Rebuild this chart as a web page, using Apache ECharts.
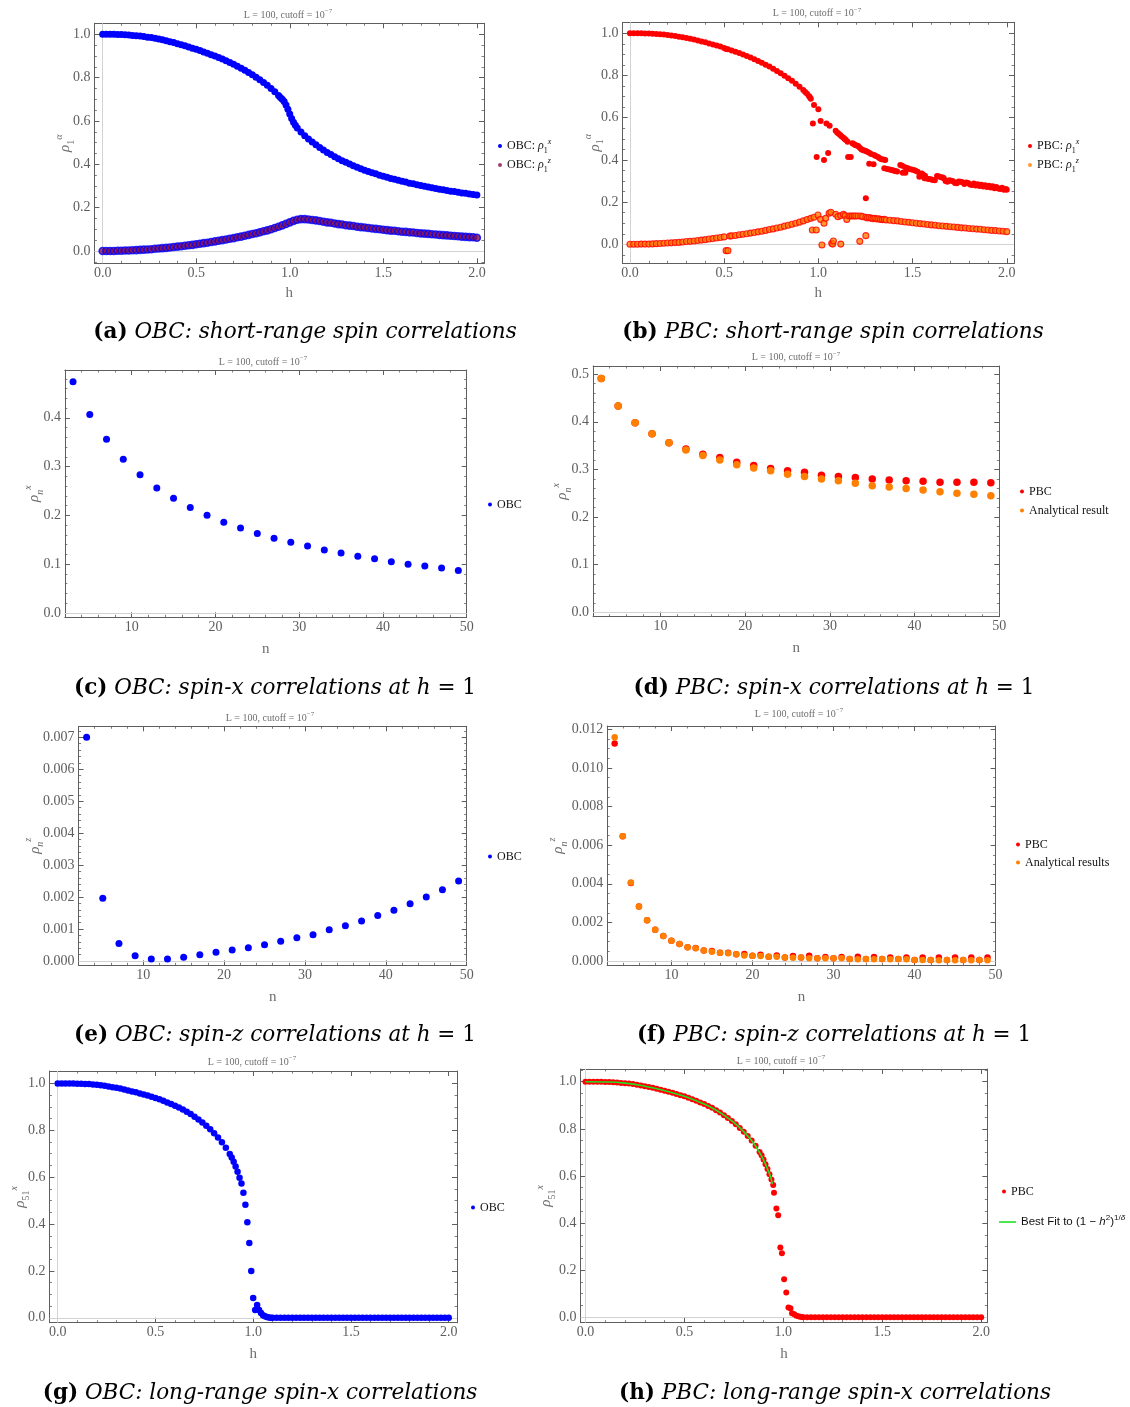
<!DOCTYPE html>
<html><head><meta charset="utf-8">
<script src="https://cdn.jsdelivr.net/npm/echarts@6.0.0/dist/echarts.min.js"></script>
<style>html,body{margin:0;padding:0;background:#fff}#c{width:1130px;height:1407px}</style>
</head><body><div id="c"></div>
<script>
// ================= DATA =================
// (a) OBC short-range, h vs rho_1^x and rho_1^z
const obcRho1x = [[0,1.000],[0.02,1.000],[0.04,1.000],[0.06,1.000],[0.08,0.999],[0.1,0.999],[0.12,0.998],[0.14,0.997],[0.16,0.995],[0.18,0.994],[0.2,0.992],[0.22,0.990],[0.24,0.987],[0.26,0.985],[0.28,0.982],[0.3,0.978],[0.32,0.975],[0.34,0.971],[0.36,0.966],[0.38,0.962],[0.4,0.957],[0.42,0.952],[0.44,0.947],[0.46,0.942],[0.48,0.936],[0.5,0.931],[0.52,0.925],[0.54,0.919],[0.56,0.913],[0.58,0.906],[0.6,0.900],[0.62,0.893],[0.64,0.886],[0.66,0.878],[0.68,0.870],[0.7,0.862],[0.72,0.853],[0.74,0.844],[0.76,0.834],[0.78,0.824],[0.8,0.813],[0.82,0.802],[0.84,0.790],[0.86,0.778],[0.88,0.765],[0.9,0.750],[0.92,0.735],[0.94,0.718],[0.95,0.709],[0.96,0.700],[0.97,0.690],[0.98,0.674],[0.99,0.654],[1.0,0.632],[1.01,0.611],[1.02,0.594],[1.03,0.580],[1.04,0.568],[1.06,0.549],[1.08,0.532],[1.1,0.517],[1.12,0.503],[1.14,0.490],[1.16,0.478],[1.18,0.466],[1.2,0.455],[1.22,0.445],[1.24,0.435],[1.26,0.426],[1.28,0.417],[1.3,0.409],[1.32,0.401],[1.34,0.393],[1.36,0.386],[1.38,0.380],[1.4,0.373],[1.42,0.367],[1.44,0.361],[1.46,0.356],[1.48,0.350],[1.5,0.345],[1.52,0.340],[1.54,0.335],[1.56,0.331],[1.58,0.326],[1.6,0.322],[1.62,0.318],[1.64,0.313],[1.66,0.310],[1.68,0.306],[1.7,0.302],[1.72,0.299],[1.74,0.295],[1.76,0.292],[1.78,0.288],[1.8,0.285],[1.82,0.282],[1.84,0.279],[1.86,0.276],[1.88,0.274],[1.9,0.271],[1.92,0.268],[1.94,0.266],[1.96,0.263],[1.98,0.261],[2.0,0.258]];
const obcRho1z = [[0,0.000],[0.02,0.000],[0.04,0.000],[0.06,0.000],[0.08,0.001],[0.1,0.001],[0.12,0.002],[0.14,0.002],[0.16,0.003],[0.18,0.004],[0.2,0.005],[0.22,0.006],[0.24,0.007],[0.26,0.008],[0.28,0.010],[0.3,0.011],[0.32,0.013],[0.34,0.014],[0.36,0.016],[0.38,0.018],[0.4,0.020],[0.42,0.022],[0.44,0.024],[0.46,0.026],[0.48,0.028],[0.5,0.031],[0.52,0.033],[0.54,0.036],[0.56,0.038],[0.58,0.041],[0.6,0.044],[0.62,0.047],[0.64,0.050],[0.66,0.053],[0.68,0.056],[0.7,0.059],[0.72,0.063],[0.74,0.066],[0.76,0.070],[0.78,0.074],[0.8,0.078],[0.82,0.082],[0.84,0.086],[0.86,0.091],[0.88,0.095],[0.9,0.100],[0.92,0.106],[0.94,0.112],[0.96,0.118],[0.98,0.125],[1.0,0.132],[1.02,0.139],[1.04,0.144],[1.06,0.147],[1.08,0.147],[1.1,0.145],[1.12,0.143],[1.14,0.141],[1.16,0.138],[1.18,0.135],[1.2,0.132],[1.22,0.130],[1.24,0.127],[1.26,0.124],[1.28,0.122],[1.3,0.119],[1.32,0.117],[1.34,0.115],[1.36,0.112],[1.38,0.110],[1.4,0.108],[1.42,0.106],[1.44,0.104],[1.46,0.102],[1.48,0.100],[1.5,0.098],[1.52,0.096],[1.54,0.094],[1.56,0.093],[1.58,0.091],[1.6,0.089],[1.62,0.088],[1.64,0.086],[1.66,0.085],[1.68,0.083],[1.7,0.081],[1.72,0.080],[1.74,0.079],[1.76,0.077],[1.78,0.076],[1.8,0.074],[1.82,0.073],[1.84,0.072],[1.86,0.070],[1.88,0.069],[1.9,0.068],[1.92,0.066],[1.94,0.065],[1.96,0.064],[1.98,0.063],[2.0,0.061]];

// (b) PBC short-range
const pbcRho1x = [[0,1.000],[0.02,1.000],[0.04,1.000],[0.06,1.000],[0.08,0.999],[0.1,0.999],[0.12,0.998],[0.14,0.997],[0.16,0.995],[0.18,0.994],[0.2,0.992],[0.22,0.990],[0.24,0.987],[0.26,0.984],[0.28,0.981],[0.3,0.978],[0.32,0.974],[0.34,0.970],[0.36,0.966],[0.38,0.961],[0.4,0.957],[0.42,0.952],[0.44,0.947],[0.46,0.942],[0.48,0.937],[0.5,0.930],[0.51,0.925],[0.52,0.924],[0.54,0.918],[0.56,0.912],[0.58,0.906],[0.6,0.899],[0.62,0.892],[0.64,0.885],[0.66,0.877],[0.68,0.869],[0.7,0.860],[0.72,0.851],[0.74,0.842],[0.76,0.832],[0.78,0.821],[0.8,0.810],[0.82,0.799],[0.84,0.787],[0.86,0.775],[0.88,0.761],[0.9,0.747],[0.92,0.731],[0.93,0.722],[0.94,0.713],[0.95,0.703],[0.955,0.697],[0.96,0.690],
 [0.971,0.572],[0.977,0.660],[0.991,0.414],[1.0,0.640],[1.012,0.584],[1.03,0.400],[1.043,0.572],[1.052,0.433],[1.06,0.562],[1.092,0.538],[1.1,0.530],[1.108,0.524],[1.116,0.518],[1.124,0.511],[1.133,0.505],[1.14,0.499],[1.146,0.494],[1.155,0.486],[1.158,0.414],[1.172,0.414],[1.181,0.479],[1.188,0.475],[1.195,0.471],[1.203,0.468],[1.211,0.466],[1.22,0.458],[1.228,0.450],[1.235,0.447],[1.243,0.445],[1.252,0.442],[1.252,0.218],[1.26,0.438],[1.27,0.434],[1.27,0.382],[1.28,0.428],[1.293,0.379],[1.296,0.423],[1.305,0.418],[1.317,0.414],[1.325,0.408],[1.335,0.403],[1.345,0.402],[1.355,0.400],[1.35,0.360],[1.365,0.357],[1.378,0.355],[1.389,0.352],[1.398,0.350],[1.408,0.347],[1.418,0.345],[1.435,0.376],[1.445,0.372],[1.448,0.339],[1.46,0.365],[1.462,0.339],[1.472,0.361],[1.483,0.357],[1.495,0.355],[1.506,0.352],[1.516,0.348],[1.527,0.344],[1.536,0.320],[1.549,0.336],[1.556,0.330],[1.563,0.313],[1.566,0.325],[1.575,0.312],[1.586,0.310],[1.597,0.308],[1.607,0.305],[1.618,0.303],[1.63,0.324],[1.64,0.321],[1.651,0.318],[1.66,0.316],[1.666,0.313],[1.675,0.300],[1.685,0.297],[1.695,0.303],[1.705,0.301],[1.715,0.299],[1.725,0.291],[1.735,0.289],[1.745,0.298],[1.755,0.296],[1.765,0.294],[1.775,0.286],[1.785,0.293],[1.795,0.291],[1.805,0.283],[1.815,0.281],[1.825,0.288],[1.835,0.279],[1.845,0.285],[1.855,0.276],[1.865,0.282],[1.875,0.274],[1.885,0.280],[1.895,0.271],[1.905,0.277],[1.915,0.269],[1.925,0.275],[1.935,0.266],[1.945,0.271],[1.955,0.264],[1.965,0.262],[1.975,0.268],[1.985,0.259],[1.995,0.262],[2.0,0.258]];
const pbcRho1z = [[0,0.000],[0.02,0.000],[0.04,0.000],[0.06,0.001],[0.08,0.001],[0.1,0.001],[0.12,0.002],[0.14,0.003],[0.16,0.004],[0.18,0.005],[0.2,0.006],[0.22,0.007],[0.24,0.008],[0.26,0.009],[0.28,0.011],[0.3,0.013],[0.32,0.014],[0.34,0.016],[0.36,0.018],[0.38,0.020],[0.4,0.022],[0.42,0.025],[0.44,0.027],[0.46,0.030],[0.48,0.032],[0.5,0.035],[0.51,-0.030],[0.52,-0.030],[0.53,0.039],[0.54,0.040],[0.56,0.042],[0.58,0.045],[0.6,0.048],[0.62,0.050],[0.64,0.053],[0.66,0.056],[0.68,0.059],[0.7,0.062],[0.72,0.066],[0.74,0.070],[0.76,0.073],[0.78,0.077],[0.8,0.081],[0.82,0.086],[0.84,0.090],[0.86,0.095],[0.88,0.100],[0.9,0.105],[0.92,0.111],[0.94,0.117],[0.96,0.123],[0.968,0.068],[0.977,0.128],[0.989,0.068],[0.998,0.139],[1.012,0.118],[1.019,-0.003],[1.03,0.100],[1.039,0.123],[1.057,0.147],[1.066,0.152],[1.071,0.005],[1.076,0.001],[1.08,0.016],[1.092,0.142],[1.104,0.131],[1.119,0.001],[1.119,0.136],[1.133,0.142],[1.142,0.136],[1.151,0.118],[1.163,0.134],[1.172,0.134],[1.181,0.134],[1.19,0.134],[1.199,0.134],[1.211,0.134],[1.22,0.014],[1.225,0.134],[1.235,0.131],[1.252,0.041],[1.252,0.128],[1.26,0.125],[1.27,0.127],[1.28,0.124],[1.29,0.121],[1.3,0.123],[1.31,0.120],[1.32,0.121],[1.33,0.118],[1.34,0.117],[1.35,0.118],[1.36,0.115],[1.38,0.114],[1.4,0.112],[1.42,0.111],[1.44,0.108],[1.46,0.106],[1.48,0.104],[1.5,0.102],[1.52,0.100],[1.54,0.098],[1.56,0.096],[1.58,0.094],[1.6,0.092],[1.62,0.090],[1.64,0.088],[1.66,0.087],[1.68,0.085],[1.7,0.083],[1.72,0.082],[1.74,0.080],[1.76,0.078],[1.78,0.077],[1.8,0.075],[1.82,0.074],[1.84,0.072],[1.86,0.071],[1.88,0.069],[1.9,0.068],[1.92,0.066],[1.94,0.065],[1.96,0.063],[1.98,0.062],[2.0,0.060]];

// (c)-(f) distance n
const nOdd = [3,5,7,9,11,13,15,17,19,21,23,25,27,29,31,33,35,37,39,41,43,45,47,49];
const nAll = [3,4,5,6,7,8,9,10,11,12,13,14,15,16,17,18,19,20,21,22,23,24,25,26,27,28,29,30,31,32,33,34,35,36,37,38,39,40,41,42,43,44,45,46,47,48,49];
const obcRhoNx = [0.474,0.407,0.356,0.315,0.283,0.256,0.235,0.216,0.200,0.186,0.174,0.163,0.153,0.145,0.137,0.129,0.123,0.116,0.111,0.105,0.100,0.096,0.092,0.087];
const pbcRhoNx = [0.491,0.433,0.398,0.375,0.356,0.343,0.332,0.325,0.315,0.308,0.302,0.297,0.294,0.288,0.285,0.283,0.280,0.278,0.276,0.275,0.273,0.273,0.273,0.272];
const anaRhoNx = [0.491,0.433,0.398,0.375,0.356,0.341,0.329,0.320,0.310,0.303,0.297,0.290,0.285,0.280,0.276,0.271,0.266,0.263,0.260,0.257,0.253,0.250,0.248,0.245];
const obcRhoNz = [0.00700,0.00196,0.00055,0.000167,0.000063,0.00006,0.000115,0.000198,0.000271,0.000344,0.000417,0.000511,0.000615,0.00073,0.000824,0.00098,0.0011,0.00125,0.00142,0.00159,0.00179,0.0020,0.00223,0.0025];
const pbcRhoNz = [0.01126,0.00646,0.00404,0.00283,0.00211,0.00162,0.00130,0.00105,0.00088,0.00071,0.00068,0.00055,0.00052,0.00043,0.00043,0.00035,0.00036,0.00028,0.00033,0.00022,0.00029,0.00019,0.00026,0.00019,0.00028,0.00014,0.00021,0.00014,0.00021,0.00010,0.00022,0.00010,0.00021,0.00010,0.00019,0.00010,0.00019,0.00005,0.00019,0.00005,0.00019,0.00005,0.00019,0.00005,0.00019,0.00005,0.00019];
const anaRhoNz = [0.01159,0.00646,0.00407,0.00283,0.00211,0.00162,0.00130,0.00105,0.00088,0.00071,0.00066,0.00055,0.00048,0.00043,0.00040,0.00035,0.00029,0.00028,0.00026,0.00022,0.00022,0.00019,0.00017,0.00019,0.00014,0.00014,0.00014,0.00014,0.00014,0.00010,0.00009,0.00010,0.00009,0.00010,0.00009,0.00010,0.00009,0.00005,0.00005,0.00005,0.00004,0.00005,0.00004,0.00005,0.00004,0.00005,0.00004];

// (g) OBC long-range rho_51^x
const obcRho51x = [[0,1.000],[0.02,1.000],[0.04,1.000],[0.06,1.000],[0.08,1.000],[0.1,0.999],[0.12,0.999],[0.14,0.998],[0.16,0.997],[0.18,0.995],[0.2,0.994],[0.22,0.992],[0.24,0.990],[0.26,0.987],[0.28,0.984],[0.3,0.981],[0.32,0.978],[0.34,0.974],[0.36,0.970],[0.38,0.966],[0.4,0.962],[0.42,0.957],[0.44,0.953],[0.46,0.948],[0.48,0.943],[0.5,0.938],[0.52,0.932],[0.54,0.926],[0.56,0.919],[0.58,0.912],[0.6,0.905],[0.62,0.897],[0.64,0.889],[0.66,0.879],[0.68,0.869],[0.7,0.858],[0.72,0.846],[0.74,0.833],[0.76,0.819],[0.78,0.804],[0.8,0.787],[0.82,0.769],[0.84,0.749],[0.86,0.726],[0.88,0.699],[0.89,0.684],[0.9,0.666],[0.91,0.645],[0.92,0.623],[0.93,0.598],[0.94,0.573],[0.95,0.533],[0.96,0.482],[0.97,0.408],[0.98,0.319],[0.99,0.200],[1.0,0.084],[1.01,0.033],[1.02,0.054],[1.03,0.033],[1.04,0.020],[1.05,0.011],[1.06,0.006],[1.07,0.003],[1.08,0.001],[1.09,0],[1.1,0],[1.12,0],[1.14,0],[1.16,0],[1.18,0],[1.2,0],[1.22,0],[1.24,0],[1.26,0],[1.28,0],[1.3,0],[1.32,0],[1.34,0],[1.36,0],[1.38,0],[1.4,0],[1.42,0],[1.44,0],[1.46,0],[1.48,0],[1.5,0],[1.52,0],[1.54,0],[1.56,0],[1.58,0],[1.6,0],[1.62,0],[1.64,0],[1.66,0],[1.68,0],[1.7,0],[1.72,0],[1.74,0],[1.76,0],[1.78,0],[1.8,0],[1.82,0],[1.84,0],[1.86,0],[1.88,0],[1.9,0],[1.92,0],[1.94,0],[1.96,0],[1.98,0],[2.0,0]];
// (h) PBC long-range rho_51^x and fitted curve
const pbcRho51x = [[0,1.000],[0.02,1.000],[0.04,1.000],[0.06,1.000],[0.08,1.000],[0.1,0.999],[0.12,0.999],[0.14,0.998],[0.16,0.997],[0.18,0.995],[0.2,0.994],[0.22,0.992],[0.24,0.990],[0.26,0.987],[0.28,0.984],[0.3,0.981],[0.32,0.978],[0.34,0.974],[0.36,0.970],[0.38,0.966],[0.4,0.962],[0.42,0.957],[0.44,0.953],[0.46,0.948],[0.48,0.943],[0.5,0.938],[0.52,0.932],[0.54,0.926],[0.56,0.919],[0.58,0.912],[0.6,0.905],[0.62,0.897],[0.64,0.889],[0.66,0.879],[0.68,0.869],[0.7,0.858],[0.72,0.846],[0.74,0.833],[0.76,0.819],[0.78,0.804],[0.8,0.788],[0.82,0.770],[0.84,0.750],[0.86,0.728],[0.88,0.702],[0.89,0.688],[0.9,0.670],[0.91,0.650],[0.92,0.629],[0.93,0.607],[0.94,0.585],[0.949,0.562],[0.953,0.529],[0.965,0.462],[0.974,0.433],[0.985,0.296],[0.993,0.272],[1.004,0.161],[1.015,0.105],[1.026,0.041],[1.036,0.038],[1.044,0.017],[1.055,0.013],[1.066,0.006],[1.076,0.004],[1.085,0.002],[1.095,0.001],[1.1,0],[1.12,0],[1.14,0],[1.16,0],[1.18,0],[1.2,0],[1.22,0],[1.24,0],[1.26,0],[1.28,0],[1.3,0],[1.32,0],[1.34,0],[1.36,0],[1.38,0],[1.4,0],[1.42,0],[1.44,0],[1.46,0],[1.48,0],[1.5,0],[1.52,0],[1.54,0],[1.56,0],[1.58,0],[1.6,0],[1.62,0],[1.64,0],[1.66,0],[1.68,0],[1.7,0],[1.72,0],[1.74,0],[1.76,0],[1.78,0],[1.8,0],[1.82,0],[1.84,0],[1.86,0],[1.88,0],[1.9,0],[1.92,0],[1.94,0],[1.96,0],[1.98,0],[2.0,0]];
const fitRho51x = [[0,1.000],[0.1,0.999],[0.2,0.994],[0.3,0.981],[0.4,0.962],[0.5,0.938],[0.6,0.905],[0.65,0.884],[0.7,0.858],[0.75,0.827],[0.8,0.788],[0.84,0.750],[0.87,0.714],[0.9,0.668],[0.92,0.630],[0.935,0.598],[0.945,0.565]];

// ================= TEXTS =================
const panelTitle = 'L = 100, cutoff = 10';
const panelTitleExp = '−7';
const captions = [
  ['(a)','OBC: short-range spin correlations',''],
  ['(b)','PBC: short-range spin correlations',''],
  ['(c)','OBC: spin-x correlations at h','= 1'],
  ['(d)','PBC: spin-x correlations at h','= 1'],
  ['(e)','OBC: spin-z correlations at h','= 1'],
  ['(f)','PBC: spin-z correlations at h','= 1'],
  ['(g)','OBC: long-range spin-x correlations',''],
  ['(h)','PBC: long-range spin-x correlations','']
];

// ================= LAYOUT / STYLE =================
const SERIF = "'Liberation Serif','Times New Roman',serif";
const SANS = "'Liberation Sans',Arial,sans-serif";
const CAPF = "'DejaVu Serif',serif";
const FRAME = '#5e5e5e', TICKC = '#5e5e5e', NAMEC = '#6e6e6e';
const BLUE = '#0000ff', RED = '#ff0000', ORANGE = '#ff8000', PURPLE = '#86104f', GREEN = '#22e022';
const CAPSIZE = 21.5, TICKSIZE = 14;

const LAYOUT = [
 {l:94.4,t:23.3,w:389.6,h:240, xr:[-0.044,2.038], xi:0.5, xm:5, xd:1, yr:[-0.057,1.051], yi:0.2, ym:4, yd:1, xn:'h', xng:22, yn:'{g|ρ}{s|1}{p|α}', yng:18, vline:true, title:[288,15], cap:[305,332]},
 {l:622.6,t:22.3,w:391.5,h:241, xr:[-0.039,2.039], xi:0.5, xm:5, xd:1, yr:[-0.09,1.052], yi:0.2, ym:4, yd:1, xn:'h', xng:22, yn:'{g|ρ}{s|1}{p|α}', yng:17, vline:true, title:[817,13.5], cap:[833,332]},
 {l:64.9,t:370,w:401.8,h:247.3, xr:[2.03,50], xi:10, xm:5, xd:0, yr:[-0.009,0.498], yi:0.1, ym:5, yd:1, xn:'n', xng:24, yn:'{g|ρ}{si|n}{p|x}', yng:20, vline:false, title:[263,362], cap:[275,688]},
 {l:593.1,t:366,w:406.2,h:250.7, xr:[2.04,50], xi:10, xm:5, xd:0, yr:[-0.009,0.517], yi:0.1, ym:5, yd:1, xn:'n', xng:24, yn:'{g|ρ}{si|n}{p|x}', yng:20, vline:false, title:[796,357.5], cap:[834,688]},
 {l:78.6,t:726.3,w:388.1,h:239, xr:[2.01,50], xi:10, xm:5, xd:0, yr:[-0.000135,0.007344], yi:0.001, ym:5, yd:3, xn:'n', xng:24, yn:'{g|ρ}{si|n}{p|z}', yng:33, vline:false, title:[270,718], cap:[275,1035]},
 {l:607.2,t:726,w:388.4,h:239.3, xr:[2.08,50], xi:10, xm:5, xd:0, yr:[-0.00022,0.01217], yi:0.002, ym:4, yd:3, xn:'n', xng:24, yn:'{g|ρ}{si|n}{p|z}', yng:38, vline:false, title:[799,714], cap:[834,1035]},
 {l:49.4,t:1071,w:407.6,h:251.7, xr:[-0.0425,2.0425], xi:0.5, xm:5, xd:1, yr:[-0.021,1.053], yi:0.2, ym:4, yd:1, xn:'h', xng:24, yn:'{g|ρ}{s|51}{p|x}', yng:18, vline:true, title:[252,1062], cap:[260,1393]},
 {l:580.5,t:1069,w:406.8,h:253.7, xr:[-0.025,2.031], xi:0.5, xm:5, xd:1, yr:[-0.023,1.054], yi:0.2, ym:4, yd:1, xn:'h', xng:24, yn:'{g|ρ}{s|51}{p|x}', yng:23, vline:true, title:[781,1061], cap:[835,1393]}
];

function tickFmt(step, dec) {
  return function (v) {
    const k = v / step;
    if (Math.abs(k - Math.round(k)) > 1e-6) return '';
    const r = Math.round(k) * step;
    return (Math.abs(r) < 1e-12 ? 0 : r).toFixed(dec);
  };
}
const nameRich = {
  g: {fontFamily: SERIF, fontStyle: 'italic', fontWeight: 'normal', fontSize: 15, color: NAMEC, lineHeight: 22},
  s: {fontFamily: SERIF, fontWeight: 'normal', fontSize: 10, color: NAMEC, verticalAlign: 'bottom', lineHeight: 15},
  si: {fontFamily: SERIF, fontStyle: 'italic', fontWeight: 'normal', fontSize: 10, color: NAMEC, verticalAlign: 'bottom', lineHeight: 15},
  p: {fontFamily: SERIF, fontStyle: 'italic', fontWeight: 'normal', fontSize: 10, color: NAMEC, verticalAlign: 'top', lineHeight: 8}
};

const grids = [], xAxes = [], yAxes = [], titles = [];
LAYOUT.forEach(function (L, i) {
  grids.push({left: L.l, top: L.t, width: L.w, height: L.h, containLabel: false, outerBoundsMode: 'none'});
  const base = function (r, step, minorSplit) {
    return {
      type: 'value', gridIndex: i, min: r[0], max: r[1], splitNumber: 5,
      minInterval: step, maxInterval: step, scale: true,
      axisLine: {show: true, onZero: false, lineStyle: {color: FRAME, width: 1}},
      axisTick: {show: true, inside: true, length: 5, lineStyle: {color: FRAME, width: 1}},
      minorTick: {show: true, splitNumber: minorSplit, length: 2.5, lineStyle: {color: FRAME, width: 0.8}},
      splitLine: {show: false}, minorSplitLine: {show: false}
    };
  };
  xAxes.push(Object.assign(base(L.xr, L.xi, L.xm), {
    position: 'bottom',
    axisLabel: {show: true, margin: 3, color: TICKC, fontFamily: SERIF, fontSize: TICKSIZE, formatter: tickFmt(L.xi, L.xd), showMinLabel: true, showMaxLabel: true},
    name: L.xn, nameLocation: 'middle', nameGap: L.xng, nameMoveOverlap: false,
    nameTextStyle: {fontFamily: SERIF, fontSize: 15, color: NAMEC}
  }));
  xAxes.push(Object.assign(base(L.xr, L.xi, L.xm), {position: 'top', axisLabel: {show: false}}));
  yAxes.push(Object.assign(base(L.yr, L.yi, L.ym), {
    position: 'left',
    axisLabel: {show: true, margin: 4, color: TICKC, fontFamily: SERIF, fontSize: TICKSIZE, formatter: tickFmt(L.yi, L.yd), showMinLabel: true, showMaxLabel: true},
    name: L.yn, nameLocation: 'middle', nameGap: L.yng, nameRotate: 90, nameMoveOverlap: false,
    nameTextStyle: {rich: nameRich}
  }));
  yAxes.push(Object.assign(base(L.yr, L.yi, L.ym), {position: 'right', axisLabel: {show: false}}));

  titles.push({
    text: '{t|' + panelTitle + '}{p|' + panelTitleExp + '}',
    left: L.title[0], top: L.title[1] - 7, textAlign: 'center', padding: 0, itemGap: 0,
    textStyle: {fontWeight: 'normal', fontFamily: SERIF, fontSize: 10, color: NAMEC, rich: {
      t: {fontFamily: SERIF, fontWeight: 'normal', fontSize: 10, color: NAMEC, lineHeight: 14},
      p: {fontFamily: SERIF, fontWeight: 'normal', fontSize: 7, color: NAMEC, verticalAlign: 'top', lineHeight: 6}
    }}
  });
  const c = captions[i];
  titles.push({
    text: '{b|' + c[0] + '}{r| }{i|' + c[1] + '}' + (c[2] ? '{r| ' + c[2] + '}' : ''),
    left: L.cap[0], top: L.cap[1] - 13, textAlign: 'center', padding: 0,
    textStyle: {fontFamily: CAPF, fontWeight: 'normal', fontSize: CAPSIZE, color: '#000', rich: {
      b: {fontFamily: CAPF, fontWeight: 'bold', fontSize: CAPSIZE, color: '#000', lineHeight: 26},
      i: {fontFamily: CAPF, fontStyle: 'italic', fontWeight: 'normal', fontSize: CAPSIZE, color: '#000', lineHeight: 26},
      r: {fontFamily: CAPF, fontWeight: 'normal', fontSize: CAPSIZE, color: '#000', lineHeight: 26}
    }}
  });
});

function zeroLines(i) {
  const d = [{yAxis: 0}];
  if (LAYOUT[i].vline) d.push({xAxis: 0});
  return {silent: true, z: 1, symbol: ['none', 'none'], label: {show: false}, animation: false,
    lineStyle: {color: '#d2d2d2', width: 1, type: 'solid'}, emphasis: {disabled: true}, data: d};
}
function sc(name, grid, data, color, size, extra) {
  return Object.assign({
    type: 'scatter', name: name, xAxisIndex: grid * 2, yAxisIndex: grid * 2, data: data,
    symbol: 'circle', symbolSize: size, itemStyle: {color: color, opacity: 1},
    emphasis: {disabled: true}, animation: false, z: 3
  }, extra || {});
}
const pairs = function (xs, ys) { return xs.map(function (x, k) { return [x, ys[k]]; }); };

const series = [
  sc('OBC: ρ1x', 0, obcRho1x, BLUE, 7, {markLine: zeroLines(0)}),
  sc('OBC: ρ1z', 0, obcRho1z, PURPLE, 7, {itemStyle: {color: PURPLE, borderColor: BLUE, borderWidth: 1.6}}),
  sc('PBC: ρ1x', 1, pbcRho1x, RED, 6, {markLine: zeroLines(1)}),
  sc('PBC: ρ1z', 1, pbcRho1z, ORANGE, 6, {itemStyle: {color: ORANGE, borderColor: RED, borderWidth: 1.1}}),
  sc('OBC', 2, pairs(nOdd, obcRhoNx), BLUE, 7, {markLine: zeroLines(2)}),
  sc('PBC', 3, pairs(nOdd, pbcRhoNx), RED, 7.5, {markLine: zeroLines(3)}),
  sc('Analytical result', 3, pairs(nOdd, anaRhoNx), ORANGE, 7.5),
  sc('OBC', 4, pairs(nOdd, obcRhoNz), BLUE, 7, {markLine: zeroLines(4)}),
  sc('PBC', 5, pairs(nAll, pbcRhoNz), RED, 6.5, {markLine: zeroLines(5)}),
  sc('Analytical results', 5, pairs(nAll, anaRhoNz), ORANGE, 6.5),
  sc('OBC', 6, obcRho51x, BLUE, 6.5, {markLine: zeroLines(6)}),
  sc('PBC', 7, pbcRho51x, RED, 6, {markLine: zeroLines(7)}),
  {type: 'line', name: 'Best Fit', xAxisIndex: 14, yAxisIndex: 14, data: fitRho51x, smooth: true,
   showSymbol: false, symbol: 'none', lineStyle: {color: GREEN, width: 1.6}, itemStyle: {color: GREEN}, z: 4, animation: false, emphasis: {disabled: true}}
];

// legends
const LF = 12, LS = 8;
const legRich = {
  t: {fontFamily: SERIF, fontSize: LF, color: '#111', lineHeight: 17},
  g: {fontFamily: SERIF, fontStyle: 'italic', fontSize: LF, color: '#111', lineHeight: 17},
  s: {fontFamily: SERIF, fontSize: LS, color: '#111', verticalAlign: 'bottom', lineHeight: 12},
  p: {fontFamily: SERIF, fontStyle: 'italic', fontSize: LS, color: '#111', verticalAlign: 'top', lineHeight: 7},
  st: {fontFamily: SANS, fontSize: 11.5, color: '#111', lineHeight: 17},
  si: {fontFamily: SANS, fontStyle: 'italic', fontSize: 11.5, color: '#111', lineHeight: 17},
  sp: {fontFamily: SANS, fontSize: LS, color: '#111', verticalAlign: 'top', lineHeight: 7},
  spi: {fontFamily: SANS, fontStyle: 'italic', fontSize: LS, color: '#111', verticalAlign: 'top', lineHeight: 7}
};
const legLabel = {
  'OBC: ρ1x': '{t|OBC: }{g|ρ}{s|1}{p|x}',
  'OBC: ρ1z': '{t|OBC: }{g|ρ}{s|1}{p|z}',
  'PBC: ρ1x': '{t|PBC: }{g|ρ}{s|1}{p|x}',
  'PBC: ρ1z': '{t|PBC: }{g|ρ}{s|1}{p|z}',
  'OBC': '{t|OBC}', 'PBC': '{t|PBC}',
  'Analytical result': '{t|Analytical result}',
  'Analytical results': '{t|Analytical results}',
  'Best Fit': '{st|Best Fit to (1 − }{si|h}{sp|2}{st|)}{sp|1/}{spi|δ}'
};
const LEG = [
  ['OBC: ρ1x', 498, 146], ['OBC: ρ1z', 498, 165],
  ['PBC: ρ1x', 1028, 146], ['PBC: ρ1z', 1028, 165],
  ['OBC', 488, 507],
  ['PBC', 1020, 494], ['Analytical result', 1020, 513],
  ['OBC', 488, 859],
  ['PBC', 1016, 847], ['Analytical results', 1016, 865],
  ['OBC', 471, 1210],
  ['PBC', 1002, 1194], ['Best Fit', 999, 1222]
];
const legends = LEG.map(function (e) {
  const isLine = e[0] === 'Best Fit';
  return {
    show: true, selectedMode: false, orient: 'vertical', padding: 0,
    left: e[1], top: e[2] - 8.5,
    itemWidth: isLine ? 17 : 4, itemHeight: isLine ? 1.6 : 4,
    data: [{name: e[0], icon: isLine ? 'rect' : 'circle', itemStyle: {borderWidth: 0}}],
    formatter: function (n) { return legLabel[n]; },
    textStyle: {fontFamily: SERIF, fontSize: LF, color: '#111', rich: legRich}
  };
});

const chart = echarts.init(document.getElementById('c'), null, {renderer: 'canvas', width: 1130, height: 1407});
chart.setOption({
  animation: false,
  backgroundColor: '#ffffff',
  title: titles,
  legend: legends,
  grid: grids,
  xAxis: xAxes,
  yAxis: yAxes,
  series: series
});
</script>
</body></html>
